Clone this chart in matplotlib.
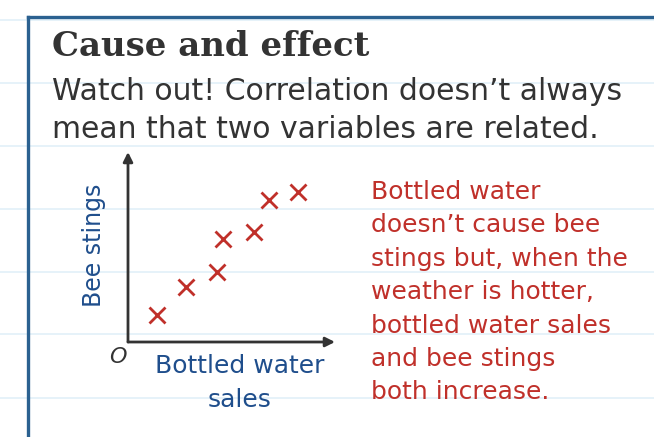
#!/usr/bin/env python3

from matplotlib import pyplot as pl

# scatter values (arbitrary units, origin at axis corner)
water_sales = [1.4, 2.8, 4.3, 4.6, 6.1, 6.8, 8.2]
bee_stings = [1.4, 2.9, 3.7, 5.4, 5.8, 7.5, 7.9]

title = 'Cause and effect'
subtitle = ['Watch out! Correlation doesn\u2019t always',
            'mean that two variables are related.']
note = ['Bottled water',
        'doesn\u2019t cause bee',
        'stings but, when the',
        'weather is hotter,',
        'bottled water sales',
        'and bee stings',
        'both increase.']

W, H = 654, 437
blue = '#1f4e8c'
red = '#c0302a'
dark = '#333333'
border = '#2b6190'
ruled = '#e2f0f8'

fig = pl.figure(figsize=(W / 100, H / 100), dpi=100)

# background canvas in pixel coordinates
bg = fig.add_axes([0, 0, 1, 1])
bg.set_xlim(0, W)
bg.set_ylim(H, 0)
bg.axis('off')

for y in [20, 83, 146, 209, 272, 334, 398]:
    bg.plot([0, W], [y, y], color=ruled, lw=1.2, zorder=0)

bg.plot([28, W + 5], [17, 17], color=border, lw=2.4, zorder=1)
bg.plot([28, 28], [17, H + 5], color=border, lw=2.4, zorder=1)

bg.text(52, 47, title, fontsize=24.5, fontweight='bold', family='DejaVu Serif',
        color=dark, va='center', ha='left')
bg.text(52, 92, subtitle[0], fontsize=21.5, color=dark, va='center', ha='left')
bg.text(52, 129, subtitle[1], fontsize=21.5, color=dark, va='center', ha='left')

for i, line in enumerate(note):
    bg.text(371, 192 + i * 33.4, line, fontsize=18, color=red,
            va='center', ha='left')

bg.text(118, 357, 'O', fontsize=16, style='italic', color=dark,
        va='center', ha='center')
bg.text(240, 366, 'Bottled water', fontsize=18, color=blue,
        va='center', ha='center')
bg.text(240, 400, 'sales', fontsize=18, color=blue,
        va='center', ha='center')
bg.text(94, 245, 'Bee stings', fontsize=17, color=blue, rotation=90,
        va='center', ha='center')

# scatter axes
ax = fig.add_axes([128 / W, (H - 342) / H, 207 / W, 190 / H])
ax.patch.set_alpha(0)
ax.set_xlim(0, 10)
ax.set_ylim(0, 10)
for s in ax.spines.values():
    s.set_visible(False)
ax.set_xticks([])
ax.set_yticks([])

arrow = dict(arrowstyle='-|>', color=dark, lw=2, mutation_scale=14,
             shrinkA=0, shrinkB=0)
ax.annotate('', xy=(10, 0), xytext=(0, 0), arrowprops=arrow,
            annotation_clip=False)
ax.annotate('', xy=(0, 10), xytext=(0, 0), arrowprops=arrow,
            annotation_clip=False)

ax.plot(water_sales, bee_stings, linestyle='none', marker='x', markersize=11,
        markeredgewidth=2, color=red, clip_on=False)

fig.savefig('out.png', dpi=100)
